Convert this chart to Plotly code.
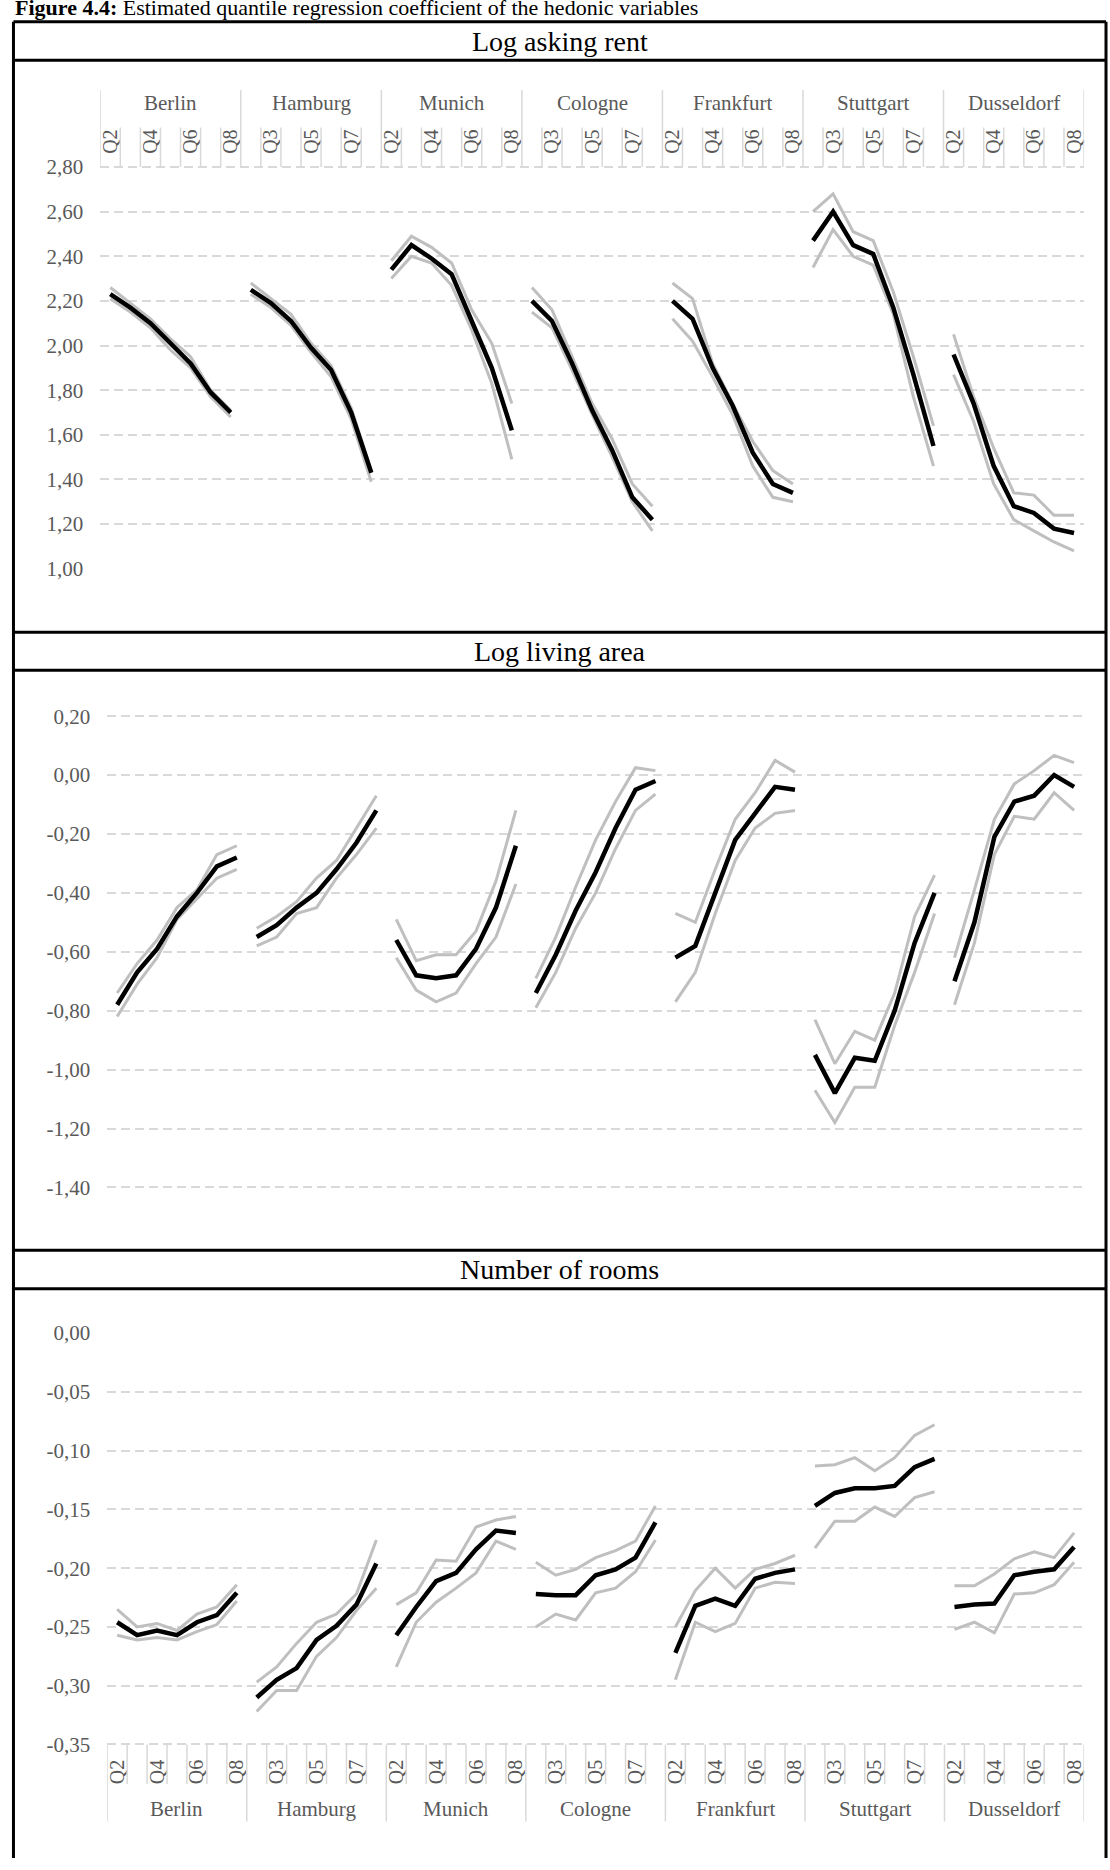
import plotly.graph_objects as go

W, H = 1110, 1870

CITIES = ["Berlin", "Hamburg", "Munich", "Cologne", "Frankfurt", "Stuttgart", "Dusseldorf"]
QUANTILES = ["Q2", "Q3", "Q4", "Q5", "Q6", "Q7", "Q8"]
PANEL_TITLES = ["Log asking rent", "Log living area", "Number of rooms"]
FIG_TITLE_BOLD = "Figure 4.4:"
FIG_TITLE_REST = " Estimated quantile regression coefficient of the hedonic variables"

# ---- Log asking rent (one list per city, Q2..Q8) ----
rent_coef = [
    [2.23, 2.17, 2.10, 2.01, 1.92, 1.79, 1.70],
    [2.25, 2.19, 2.11, 1.99, 1.89, 1.70, 1.43],
    [2.34, 2.45, 2.39, 2.32, 2.11, 1.90, 1.62],
    [2.20, 2.11, 1.92, 1.71, 1.53, 1.32, 1.22],
    [2.20, 2.12, 1.90, 1.73, 1.52, 1.38, 1.34],
    [2.47, 2.60, 2.45, 2.41, 2.17, 1.87, 1.55],
    [1.96, 1.74, 1.46, 1.28, 1.25, 1.18, 1.16],
]
rent_upper = [
    [2.26, 2.19, 2.12, 2.03, 1.95, 1.80, 1.71],
    [2.28, 2.21, 2.14, 2.01, 1.91, 1.72, 1.44],
    [2.38, 2.49, 2.44, 2.37, 2.16, 2.01, 1.74],
    [2.26, 2.16, 1.95, 1.74, 1.58, 1.38, 1.28],
    [2.28, 2.21, 1.92, 1.74, 1.57, 1.44, 1.38],
    [2.60, 2.68, 2.51, 2.47, 2.24, 1.95, 1.64],
    [2.05, 1.77, 1.54, 1.34, 1.33, 1.24, 1.24],
]
rent_lower = [
    [2.21, 2.15, 2.08, 1.98, 1.90, 1.77, 1.68],
    [2.23, 2.17, 2.09, 1.97, 1.86, 1.67, 1.39],
    [2.30, 2.40, 2.37, 2.27, 2.07, 1.83, 1.49],
    [2.15, 2.08, 1.89, 1.69, 1.50, 1.30, 1.17],
    [2.12, 2.02, 1.86, 1.69, 1.46, 1.32, 1.30],
    [2.35, 2.52, 2.40, 2.36, 2.14, 1.77, 1.46],
    [1.87, 1.66, 1.38, 1.22, 1.17, 1.12, 1.08],
]

# ---- Log living area ----
area_coef = [
    [-0.78, -0.67, -0.59, -0.48, -0.40, -0.31, -0.28],
    [-0.55, -0.51, -0.45, -0.40, -0.32, -0.23, -0.12],
    [-0.56, -0.68, -0.69, -0.68, -0.59, -0.45, -0.24],
    [-0.74, -0.61, -0.46, -0.33, -0.18, -0.05, -0.02],
    [-0.62, -0.58, -0.40, -0.22, -0.13, -0.04, -0.05],
    [-0.95, -1.08, -0.96, -0.97, -0.80, -0.57, -0.40],
    [-0.70, -0.50, -0.21, -0.09, -0.07, 0.00, -0.04],
]
area_upper = [
    [-0.74, -0.64, -0.56, -0.45, -0.39, -0.27, -0.24],
    [-0.52, -0.48, -0.43, -0.35, -0.29, -0.18, -0.07],
    [-0.49, -0.63, -0.61, -0.61, -0.53, -0.36, -0.12],
    [-0.69, -0.55, -0.38, -0.22, -0.09, 0.025, 0.015],
    [-0.47, -0.50, -0.32, -0.15, -0.06, 0.05, 0.01],
    [-0.83, -0.98, -0.87, -0.90, -0.74, -0.48, -0.34],
    [-0.62, -0.39, -0.15, -0.03, 0.015, 0.067, 0.042],
]
area_lower = [
    [-0.82, -0.71, -0.62, -0.49, -0.42, -0.35, -0.32],
    [-0.58, -0.55, -0.47, -0.45, -0.35, -0.27, -0.18],
    [-0.62, -0.73, -0.77, -0.74, -0.64, -0.55, -0.37],
    [-0.79, -0.67, -0.52, -0.40, -0.25, -0.12, -0.065],
    [-0.77, -0.67, -0.47, -0.29, -0.18, -0.13, -0.12],
    [-1.07, -1.18, -1.06, -1.06, -0.85, -0.67, -0.47],
    [-0.78, -0.57, -0.27, -0.14, -0.15, -0.06, -0.12],
]

# ---- Number of rooms ----
rooms_coef = [
    [-0.246, -0.257, -0.253, -0.257, -0.246, -0.240, -0.221],
    [-0.310, -0.295, -0.285, -0.261, -0.249, -0.231, -0.196],
    [-0.257, -0.233, -0.211, -0.204, -0.184, -0.168, -0.170],
    [-0.222, -0.223, -0.223, -0.206, -0.201, -0.191, -0.161],
    [-0.272, -0.232, -0.226, -0.232, -0.209, -0.204, -0.201],
    [-0.147, -0.136, -0.132, -0.132, -0.130, -0.114, -0.107],
    [-0.233, -0.231, -0.230, -0.206, -0.203, -0.201, -0.182],
]
rooms_upper = [
    [-0.235, -0.250, -0.247, -0.253, -0.239, -0.233, -0.214],
    [-0.297, -0.284, -0.264, -0.246, -0.239, -0.222, -0.176],
    [-0.231, -0.221, -0.193, -0.194, -0.165, -0.159, -0.156],
    [-0.195, -0.206, -0.201, -0.191, -0.185, -0.177, -0.147],
    [-0.250, -0.219, -0.200, -0.217, -0.201, -0.196, -0.189],
    [-0.113, -0.112, -0.106, -0.117, -0.106, -0.087, -0.078],
    [-0.215, -0.215, -0.205, -0.192, -0.186, -0.191, -0.170],
]
rooms_lower = [
    [-0.257, -0.261, -0.259, -0.261, -0.254, -0.248, -0.228],
    [-0.322, -0.304, -0.304, -0.275, -0.259, -0.236, -0.217],
    [-0.284, -0.246, -0.229, -0.217, -0.204, -0.177, -0.184],
    [-0.250, -0.239, -0.244, -0.221, -0.217, -0.203, -0.176],
    [-0.295, -0.246, -0.254, -0.247, -0.217, -0.212, -0.213],
    [-0.183, -0.160, -0.160, -0.148, -0.156, -0.140, -0.135],
    [-0.252, -0.246, -0.255, -0.222, -0.221, -0.214, -0.195],
]

rent_ticks = [1.0, 1.2, 1.4, 1.6, 1.8, 2.0, 2.2, 2.4, 2.6, 2.8]
area_ticks = [-1.4, -1.2, -1.0, -0.8, -0.6, -0.4, -0.2, 0.0, 0.2]
rooms_ticks = [-0.35, -0.30, -0.25, -0.20, -0.15, -0.10, -0.05, 0.0]

# ---------------- styling / geometry ----------------
FONT = "Liberation Serif, Times New Roman, serif"
TICK_COL = "#595959"
GRID_COL = "#d9d9d9"
GRAY = "#bfbfbf"
NCAT = len(CITIES) * len(QUANTILES)


def py(px):  # pixel row -> paper y
    return 1 - px / H


def px_x(px):
    return px / W


def ydom(top_px, top_v, bot_px, bot_v, r0, r1):
    s = (bot_px - top_px) / (top_v - bot_v)
    f = lambda v: top_px + (top_v - v) * s
    return [py(f(r0)), py(f(r1))]


def fmt(v):
    return f"{v:.2f}".replace(".", ",")


panels = [
    dict(coef=rent_coef, up=rent_upper, lo=rent_lower, ticks=rent_ticks,
         xdom=[px_x(98.5), px_x(1085)], rng=[1.0, 2.805],
         ydom=ydom(157, 2.8, 564, 1.0, 1.0, 2.805)),
    dict(coef=area_coef, up=area_upper, lo=area_lower, ticks=area_ticks,
         xdom=[px_x(105.5), px_x(1085)], rng=[-1.41, 0.21],
         ydom=ydom(713.3, 0.2, 1190.7, -1.4, -1.41, 0.21)),
    dict(coef=rooms_coef, up=rooms_upper, lo=rooms_lower, ticks=rooms_ticks,
         xdom=[px_x(105.5), px_x(1085)], rng=[-0.352, 0.0],
         ydom=ydom(1338.3, 0.0, 1755, -0.35, -0.352, 0.0)),
]

fig = go.Figure()

for p_i, p in enumerate(panels):
    sfx = "" if p_i == 0 else str(p_i + 1)
    for c_i, city in enumerate(CITIES):
        xs = [c_i * len(QUANTILES) + q for q in range(len(QUANTILES))]
        for series, col, wd in ((p["up"], GRAY, 3), (p["lo"], GRAY, 3), (p["coef"], "black", 4.5)):
            fig.add_trace(go.Scatter(
                x=xs, y=series[c_i], mode="lines",
                line=dict(color=col, width=wd),
                xaxis="x" + sfx, yaxis="y" + sfx,
                showlegend=False, hoverinfo="skip"))

tickvals_q = [i for i in range(NCAT) if i % 2 == 0]
ticktext_q = [QUANTILES[i % len(QUANTILES)] for i in tickvals_q]
boundaries = [k - 0.5 for k in range(NCAT + 1)]

layout = dict(
    width=W, height=H, margin=dict(l=0, r=0, t=0, b=0),
    paper_bgcolor="white", plot_bgcolor="white",
    font=dict(family=FONT, color=TICK_COL),
    showlegend=False,
)

for p_i, p in enumerate(panels):
    sfx = "" if p_i == 0 else str(p_i + 1)
    xa = dict(domain=p["xdom"], range=[-0.5, NCAT - 0.5], anchor="y" + sfx,
              showgrid=False, zeroline=False, showline=False, ticks="",
              tickvals=tickvals_q, ticktext=ticktext_q, tickangle=-90,
              tickfont=dict(family=FONT, size=20, color=TICK_COL))
    if p_i == 0:
        xa.update(side="top", ticklabelstandoff=11)
    elif p_i == 1:
        xa.update(visible=False)
    else:
        xa.update(side="bottom", ticklabelstandoff=8)
    layout["xaxis" + sfx] = xa
    layout["yaxis" + sfx] = dict(
        domain=p["ydom"], range=p["rng"], anchor="x" + sfx,
        showgrid=True, gridcolor=GRID_COL, gridwidth=1.5, griddash="9px,5px",
        zeroline=False, showline=False, ticks="",
        tickvals=p["ticks"], ticktext=[fmt(v) for v in p["ticks"]],
        ticklabelstandoff=16,
        tickfont=dict(family=FONT, size=21, color=TICK_COL))

# solid category-axis lines with small tick marks
layout["xaxis4"] = dict(overlaying="x", anchor="y", side="bottom", range=[-0.5, NCAT - 0.5],
                        showline=True, linecolor=GRID_COL, linewidth=2,
                        ticks="inside", ticklen=4, tickwidth=1.5, tickcolor=GRID_COL,
                        tickvals=boundaries, showticklabels=False, showgrid=False, zeroline=False)
layout["xaxis5"] = dict(overlaying="x3", anchor="y3", side="top", range=[-0.5, NCAT - 0.5],
                        showline=True, linecolor=GRID_COL, linewidth=2,
                        ticks="outside", ticklen=4, tickwidth=1.5, tickcolor=GRID_COL,
                        tickvals=boundaries, showticklabels=False, showgrid=False, zeroline=False)
fig.update_layout(**layout)

shapes = []
annotations = []

# label dividers for the multi-level category axes
for k, b in enumerate(boundaries):
    grp = (k % len(QUANTILES) == 0)
    shapes.append(dict(type="line", xref="x", yref="paper", x0=b, x1=b,
                       y0=py(157), y1=py(79 if grp else 117),
                       line=dict(color=GRID_COL, width=1.5)))
    shapes.append(dict(type="line", xref="x3", yref="paper", x0=b, x1=b,
                       y0=py(1755), y1=py(1833 if grp else 1795),
                       line=dict(color=GRID_COL, width=1.5)))

for c_i, city in enumerate(CITIES):
    cx = c_i * len(QUANTILES) + (len(QUANTILES) - 1) / 2
    for xr, ypx in (("x", 92), ("x3", 1820)):
        annotations.append(dict(text=city, xref=xr, yref="paper", x=cx, y=py(ypx),
                                xanchor="center", yanchor="middle", showarrow=False,
                                font=dict(family=FONT, size=21, color=TICK_COL)))

# panel frame
XL, XR = 11.5, 1107
for ypx in (10, 49, 628.3, 666.7, 1254.3, 1293.3):
    shapes.append(dict(type="line", xref="paper", yref="paper", x0=px_x(XL), x1=px_x(XR),
                       y0=py(ypx), y1=py(ypx), line=dict(color="black", width=3)))
for xpx in (XL, XR):
    shapes.append(dict(type="line", xref="paper", yref="paper", x0=px_x(xpx), x1=px_x(xpx),
                       y0=py(10), y1=py(1870), line=dict(color="black", width=3)))

for title, ypx in zip(PANEL_TITLES, (30, 648, 1274)):
    annotations.append(dict(text=title, xref="paper", yref="paper", x=px_x((XL + XR) / 2), y=py(ypx),
                            xanchor="center", yanchor="middle", showarrow=False,
                            font=dict(family=FONT, size=28, color="black")))

annotations.append(dict(text="<b>" + FIG_TITLE_BOLD + "</b>" + FIG_TITLE_REST,
                        xref="paper", yref="paper", x=px_x(11), y=py(-5),
                        xanchor="left", yanchor="middle", showarrow=False,
                        font=dict(family=FONT, size=22, color="black")))

fig.update_layout(shapes=shapes, annotations=annotations)
fig.write_html("out.html")
